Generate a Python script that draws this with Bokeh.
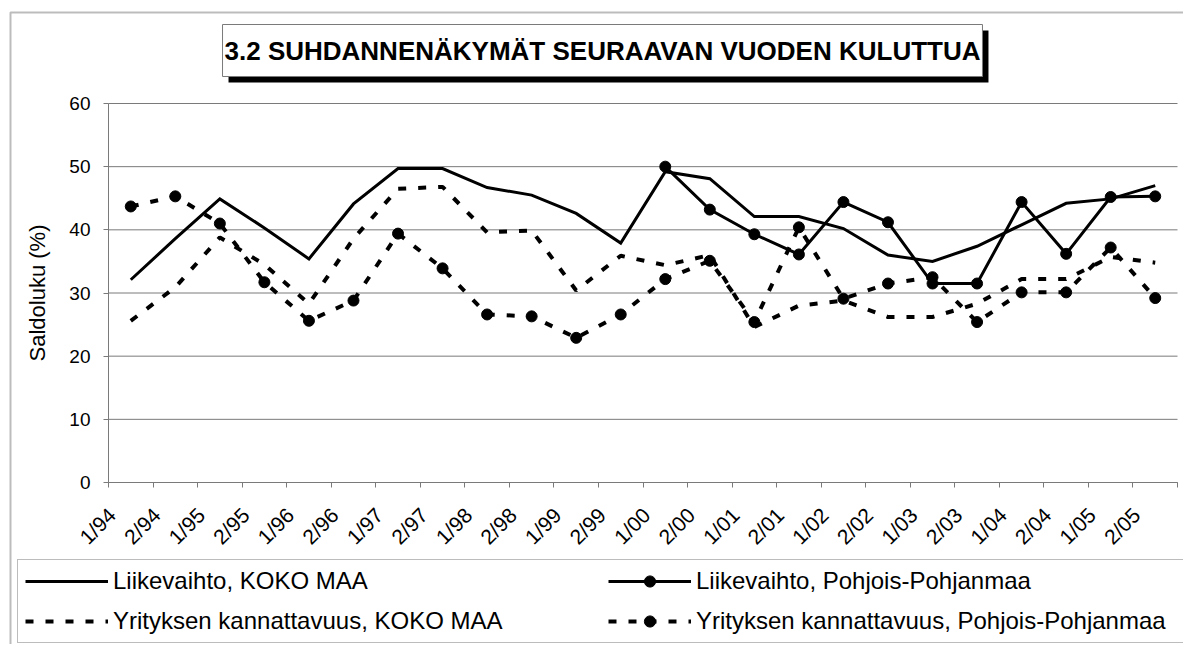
import numpy as np
from bokeh.plotting import figure
from bokeh.models import Range1d, FixedTicker, Legend, LegendItem, Label, BoxAnnotation
from bokeh.embed import file_html
from bokeh.resources import INLINE

nan = float("nan")

periods = ["1/94", "2/94", "1/95", "2/95", "1/96", "2/96", "1/97", "2/97",
           "1/98", "2/98", "1/99", "2/99", "1/00", "2/00", "1/01", "2/01",
           "1/02", "2/02", "1/03", "2/03", "1/04", "2/04", "1/05", "2/05"]

liikevaihto_koko = [32.1, 38.6, 44.9, 40.3, 35.4, 44.1, 49.7, 49.7,
                    46.7, 45.5, 42.6, 37.9, 49.2, 48.1, 42.1, 42.1,
                    40.2, 36.0, 35.0, 37.4, 40.8, 44.2, 44.9, 47.0]
liikevaihto_pp = [nan, nan, nan, nan, nan, nan, nan, nan,
                  nan, nan, nan, nan, 50.0, 43.2, 39.3, 36.1,
                  44.4, 41.2, 31.5, 31.5, 44.4, 36.2, 45.2, 45.3]
kannattavuus_koko = [25.6, 30.9, 38.8, 34.5, 28.3, 38.6, 46.5, 46.8,
                     39.6, 39.9, 30.4, 35.9, 34.4, 36.0, 24.6, 28.0,
                     28.8, 26.2, 26.2, 28.3, 32.2, 32.2, 35.7, 34.8]
kannattavuus_pp = [43.7, 45.3, 41.0, 31.7, 25.6, 28.8, 39.4, 33.9,
                   26.6, 26.3, 22.9, 26.6, 32.2, 35.1, 25.4, 40.4,
                   29.1, 31.5, 32.5, 25.4, 30.1, 30.1, 37.2, 29.2]

series_names = ["Liikevaihto, KOKO MAA", "Liikevaihto, Pohjois-Pohjanmaa",
                "Yrityksen kannattavuus, KOKO MAA",
                "Yrityksen kannattavuus, Pohjois-Pohjanmaa"]
title_text = "3.2 SUHDANNENÄKYMÄT SEURAAVAN VUODEN KULUTTUA"
y_label = "Saldoluku (%)"
y_ticks = [0, 10, 20, 30, 40, 50, 60]
y_min, y_max = 0, 60

FONT = "Liberation Sans"
GRAY = "#7a7a7a"

# canvas / plot-area geometry in pixels
W, H = 1183, 644
PX_LEFT, PX_RIGHT = 108, 1177     # plot area left/right
PX_TOP, PX_BOTTOM = 103, 482      # plot area top/bottom

n = len(periods)
x = np.arange(n) + 0.5

# ranges chosen so that the drawing frame covers the whole canvas
kx = (PX_RIGHT - PX_LEFT) / n
ky = (PX_BOTTOM - PX_TOP) / (y_max - y_min)
x_range = Range1d(0 - PX_LEFT / kx, n + (W - PX_RIGHT) / kx)
y_range = Range1d(y_min - (H - PX_BOTTOM) / ky, y_max + PX_TOP / ky)

p = figure(width=W, height=H, x_range=x_range, y_range=y_range,
           output_backend="svg", toolbar_location=None,
           min_border_left=0, min_border_right=0, min_border_top=0, min_border_bottom=0)
p.outline_line_color = None
p.background_fill_color = "white"
p.border_fill_color = "white"
p.xgrid.grid_line_color = None
p.ygrid.grid_line_color = None

# horizontal gridlines over the plot area only
p.segment(x0=[0] * len(y_ticks), x1=[n] * len(y_ticks), y0=y_ticks, y1=y_ticks,
          line_color=GRAY, line_width=1)

# y axis
p.yaxis.fixed_location = 0
p.yaxis.bounds = (y_min, y_max)
p.yaxis.ticker = FixedTicker(ticks=y_ticks, minor_ticks=[])
p.yaxis.axis_line_color = GRAY
p.yaxis.major_tick_line_color = GRAY
p.yaxis.major_tick_out = 5
p.yaxis.major_tick_in = 0
p.yaxis.minor_tick_line_color = None
p.yaxis.major_label_text_font = FONT
p.yaxis.major_label_text_font_size = "19px"
p.yaxis.major_label_text_color = "black"
p.yaxis.major_label_standoff = 13
p.yaxis.axis_label = y_label
p.yaxis.axis_label_text_font = FONT
p.yaxis.axis_label_text_font_size = "22px"
p.yaxis.axis_label_text_font_style = "normal"
p.yaxis.axis_label_text_color = "black"
p.yaxis.axis_label_standoff = 16

# x axis: labels at category centres, tick marks at category boundaries
label_pos = [float(v) - 0.42 for v in x]
p.xaxis.fixed_location = y_min
p.xaxis.bounds = (0, n)
p.xaxis.ticker = FixedTicker(ticks=label_pos, minor_ticks=list(range(n + 1)))
p.xaxis.major_label_overrides = {lp: lab for lp, lab in zip(label_pos, periods)}
p.xaxis.axis_line_color = GRAY
p.xaxis.major_tick_line_color = None
p.xaxis.major_tick_out = 0
p.xaxis.major_tick_in = 0
p.xaxis.minor_tick_line_color = GRAY
p.xaxis.minor_tick_out = 5
p.xaxis.minor_tick_in = 0
p.xaxis.major_label_orientation = np.pi / 4
p.xaxis.major_label_text_font = FONT
p.xaxis.major_label_text_font_size = "21px"
p.xaxis.major_label_text_color = "black"
p.xaxis.major_label_standoff = 24

# series
DASH = "8 12"
r1 = p.line(x, liikevaihto_koko, line_color="black", line_width=3, line_join="miter")
r2l = p.line(x, liikevaihto_pp, line_color="black", line_width=3, line_join="miter")
r2s = p.scatter(x, liikevaihto_pp, marker="circle", size=11, fill_color="black", line_color="black")
r3 = p.line(x, kannattavuus_koko, line_color="black", line_width=4, line_dash=DASH)
r4l = p.line(x, kannattavuus_pp, line_color="black", line_width=4, line_dash=DASH)
r4s = p.scatter(x, kannattavuus_pp, marker="circle", size=11, fill_color="black", line_color="black")

# outer chart frame
frame_box = BoxAnnotation(left=10, right=W + 50, top=H - 12, bottom=-50,
                          left_units="screen", right_units="screen",
                          top_units="screen", bottom_units="screen",
                          fill_alpha=0, line_color="#222222", line_width=2)
p.add_layout(frame_box)

# title box with shadow
TITLE_CX, TITLE_CY = 602, 50
TITLE_PAD = dict(left=2, right=2, top=11, bottom=11)
shadow = Label(x=TITLE_CX + 6, y=H - TITLE_CY - 6, x_units="screen", y_units="screen",
               text=title_text, text_font=FONT, text_font_size="26px", text_font_style="bold",
               text_align="center", text_baseline="middle", text_color="black",
               background_fill_color="black", background_fill_alpha=1,
               padding=TITLE_PAD)
p.add_layout(shadow)
title = Label(x=TITLE_CX, y=H - TITLE_CY, x_units="screen", y_units="screen",
              text=title_text, text_font=FONT, text_font_size="26px", text_font_style="bold",
              text_align="center", text_baseline="middle", text_color="black",
              background_fill_color="white", background_fill_alpha=1,
              border_line_color=GRAY, border_line_width=1,
              padding=TITLE_PAD)
p.add_layout(title)

legend = Legend(items=[
    LegendItem(label=series_names[0], renderers=[r1]),
    LegendItem(label=series_names[1], renderers=[r2l, r2s]),
    LegendItem(label=series_names[2], renderers=[r3]),
    LegendItem(label=series_names[3], renderers=[r4l, r4s]),
], location=(17, 1), orientation="horizontal", ncols=2,
    glyph_width=83, glyph_height=28, label_standoff=5, label_width=483,
    spacing=12, padding=7, margin=0,
    label_text_font=FONT, label_text_font_size="24px", label_text_color="black",
    border_line_color=GRAY, border_line_width=1,
    background_fill_color="white", background_fill_alpha=1)
p.add_layout(legend)

open("out.html", "w").write(file_html(p, INLINE))
